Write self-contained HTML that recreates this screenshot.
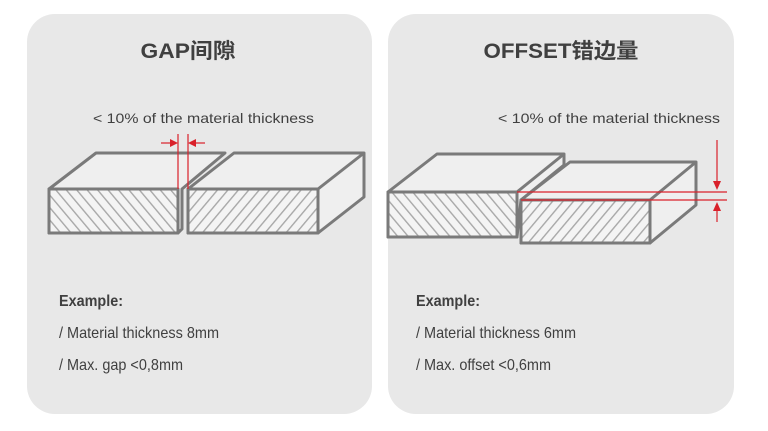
<!DOCTYPE html>
<html><head><meta charset="utf-8"><style>
html,body{margin:0;padding:0;background:#fff;}
svg{display:block;}
</style></head><body>
<svg width="768" height="431" viewBox="0 0 768 431" xmlns="http://www.w3.org/2000/svg">
<defs>
<pattern id="h1" patternUnits="userSpaceOnUse" width="8" height="8" patternTransform="rotate(40)">
<rect width="8" height="8" fill="#f4f4f4"/><rect x="0" width="1.4" height="8" fill="#a8a8a8"/></pattern>
<pattern id="h2" patternUnits="userSpaceOnUse" width="8" height="8" patternTransform="rotate(-40)">
<rect width="8" height="8" fill="#f4f4f4"/><rect x="0" width="1.4" height="8" fill="#a8a8a8"/></pattern>
</defs>
<rect x="27" y="14" width="345" height="400" rx="28" fill="#e8e8e8"/>
<rect x="388" y="14" width="346" height="400" rx="28" fill="#e8e8e8"/>
<g font-family="Liberation Sans, Noto Sans CJK SC, sans-serif" fill="#404040">
<text x="188" y="58" font-size="21" font-weight="bold" text-anchor="middle" textLength="95" lengthAdjust="spacingAndGlyphs">GAP间隙</text>
<text x="561" y="58" font-size="21" font-weight="bold" text-anchor="middle" textLength="155" lengthAdjust="spacingAndGlyphs">OFFSET错边量</text>
<text x="93" y="123" font-size="14" textLength="221" lengthAdjust="spacingAndGlyphs">&lt; 10% of the material thickness</text>
<text x="498" y="123" font-size="14" textLength="222" lengthAdjust="spacingAndGlyphs">&lt; 10% of the material thickness</text>
<text x="59" y="306" font-size="16" font-weight="bold" textLength="64" lengthAdjust="spacingAndGlyphs">Example:</text>
<text x="59" y="338" font-size="16" textLength="160" lengthAdjust="spacingAndGlyphs">/ Material thickness 8mm</text>
<text x="59" y="370" font-size="16" textLength="124" lengthAdjust="spacingAndGlyphs">/ Max. gap &lt;0,8mm</text>
<text x="416" y="306" font-size="16" font-weight="bold" textLength="64" lengthAdjust="spacingAndGlyphs">Example:</text>
<text x="416" y="338" font-size="16" textLength="160" lengthAdjust="spacingAndGlyphs">/ Material thickness 6mm</text>
<text x="416" y="370" font-size="16" textLength="135" lengthAdjust="spacingAndGlyphs">/ Max. offset &lt;0,6mm</text>
</g>
<g stroke="#7a7a7a" stroke-width="3" stroke-linejoin="round">
<polygon points="49,189 96,153 225,153 182,189 182,229 178,233 49,233" fill="#efefef"/>
<rect x="49" y="189" width="129" height="44" fill="url(#h2)"/>
<polygon points="188,189 234,153 364,153 364,197 318,233 188,233" fill="#efefef"/>
<rect x="188" y="189" width="130" height="44" fill="url(#h1)"/>
<polyline points="318,189 364,153" fill="none"/>
<polygon points="388,192 437,154 564,154 564,165 521,200 517,237 388,237" fill="#efefef"/>
<rect x="388" y="192" width="129" height="45" fill="url(#h2)"/>
<polygon points="521,200 570,162 696,162 696,205 650,243 521,243" fill="#efefef"/>
<rect x="521" y="200" width="129" height="43" fill="url(#h1)"/>
<polyline points="650,200 696,162" fill="none"/>
<polyline points="517,192 564,154" fill="none"/>
</g>
<g stroke="#d9202a" stroke-width="1.2" fill="#d9202a">
<line x1="178" y1="134" x2="178" y2="189"/>
<line x1="188" y1="134" x2="188" y2="189"/>
<line x1="161" y1="143" x2="172" y2="143"/>
<polygon points="178,143 170,139 170,147" stroke="none"/>
<line x1="205" y1="143" x2="194" y2="143"/>
<polygon points="188,143 196,139 196,147" stroke="none"/>
<line x1="517" y1="192" x2="727" y2="192"/>
<line x1="521" y1="200" x2="727" y2="200"/>
<line x1="717" y1="140" x2="717" y2="184"/>
<polygon points="717,190 713,181 721,181" stroke="none"/>
<line x1="717" y1="208" x2="717" y2="222"/>
<polygon points="717,202 713,211 721,211" stroke="none"/>
</g>
</svg>
</body></html>
